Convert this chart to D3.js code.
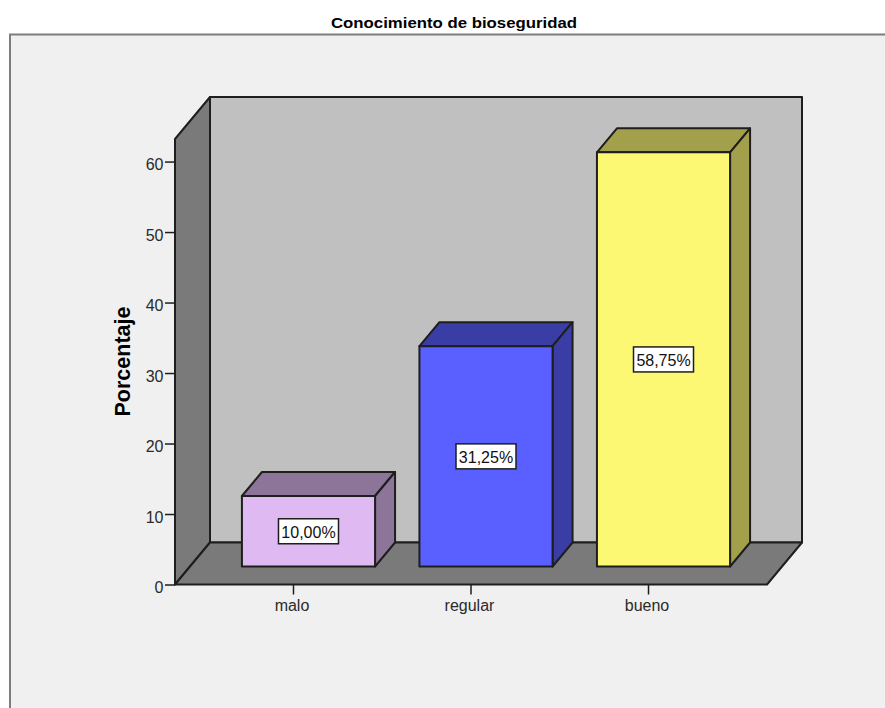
<!DOCTYPE html>
<html>
<head>
<meta charset="utf-8">
<script src="https://cdn.jsdelivr.net/npm/d3@7"></script>
<style>
  html, body { margin: 0; padding: 0; background: #fff; }
  svg { display: block; }
  text { font-family: "Liberation Sans", Arial, sans-serif; }
</style>
</head>
<body>
<svg id="chart" width="885" height="708"></svg>
<script>
// Knowledge survey results
const chartTitle = "Conocimiento de bioseguridad";
const axisTitle = "Porcentaje";
const categories = ["malo", "regular", "bueno"];
const percentages = [10.00, 31.25, 58.75];
const valueLabels = ["10,00%", "31,25%", "58,75%"];
const yTicks = [0, 10, 20, 30, 40, 50, 60];
const yAxisMax = 63.2;
const frontColors = ["#dfb9f2", "#5a5fff", "#fcf873"];
const sideColors = ["#8c7598", "#3a3da6", "#a3a04b"];

const svg = d3.select("#chart");
const ink = "#1e1e1e";

// Chart panel: open on the right and bottom edges
svg.append("rect").attr("x", 10).attr("y", 34.5).attr("width", 890).attr("height", 690)
  .attr("fill", "#f0f0f0").attr("stroke", "#7d7d7d").attr("stroke-width", 2);

svg.append("text").attr("x", 454).attr("y", 28).attr("text-anchor", "middle")
  .attr("font-size", 15).attr("font-weight", "bold").attr("fill", "#000")
  .attr("textLength", 246).attr("lengthAdjust", "spacingAndGlyphs").text(chartTitle);

// Scales on the front plane of the box
const y = d3.scaleLinear().domain([0, yAxisMax]).range([584.5, 139]);
const x = d3.scaleBand().domain(categories).range([175, 767]).paddingInner(0.25).paddingOuter(0.2925);

// Box depth, and where the bars sit inside it
const depthX = 35, depthY = -42;
const barOffsetX = 15, barOffsetY = -18;
const barDepthX = 20, barDepthY = -24;

const poly = (points, fill) => svg.append("path")
  .attr("d", d3.line()(points) + "Z")
  .attr("fill", fill).attr("stroke", ink).attr("stroke-width", 2).attr("stroke-linejoin", "round");

const [x0, x1] = x.range();
const [yb, yt] = y.range();

// Back wall, left wall, floor
poly([[x0 + depthX, yb + depthY], [x1 + depthX, yb + depthY], [x1 + depthX, yt + depthY], [x0 + depthX, yt + depthY]], "#c0c0c0");
poly([[x0, yb], [x0 + depthX, yb + depthY], [x0 + depthX, yt + depthY], [x0, yt]], "#7a7a7a");
poly([[x0, yb], [x1, yb], [x1 + depthX, yb + depthY], [x0 + depthX, yb + depthY]], "#7a7a7a");

// Value axis
const yAxis = svg.append("g").attr("transform", `translate(${x0},0)`)
  .call(d3.axisLeft(y).tickValues(yTicks).tickFormat(d3.format("d")).tickSize(10).tickPadding(1.5));
yAxis.select(".domain").remove();
yAxis.selectAll("line").attr("stroke", ink).attr("stroke-width", 1.5);
yAxis.selectAll("text").attr("font-size", 16).attr("fill", "#2a2a2a").attr("dy", "0.5em")
  .style("font-family", '"Liberation Sans", Arial, sans-serif');

// Category axis
const xAxis = svg.append("g").attr("transform", `translate(0,${yb})`)
  .call(d3.axisBottom(x).tickSize(10).tickPadding(5));
xAxis.select(".domain").remove();
xAxis.selectAll("line").attr("stroke", ink).attr("stroke-width", 1.5);
xAxis.selectAll("text").attr("font-size", 16).attr("fill", "#2a2a2a").attr("dx", -1.5)
  .style("font-family", '"Liberation Sans", Arial, sans-serif');

svg.append("text").attr("transform", "translate(130,361.5) rotate(-90)")
  .attr("text-anchor", "middle").attr("font-size", 21.5).attr("font-weight", "bold")
  .attr("fill", "#000").text(axisTitle);

// Bars, drawn as three visible box faces
categories.forEach((c, i) => {
  const left = x(c) + barOffsetX;
  const right = left + x.bandwidth();
  const bottom = yb + barOffsetY;
  const top = bottom - (yb - y(percentages[i]));
  poly([[left, top], [right, top], [right + barDepthX, top + barDepthY], [left + barDepthX, top + barDepthY]], sideColors[i]);
  poly([[right, top], [right + barDepthX, top + barDepthY], [right + barDepthX, bottom + barDepthY], [right, bottom]], sideColors[i]);
  poly([[left, top], [right, top], [right, bottom], [left, bottom]], frontColors[i]);

  const cx = (left + right) / 2, cy = (top + bottom) / 2;
  svg.append("rect").attr("x", cx - 30).attr("y", cy - 12.5).attr("width", 60).attr("height", 25)
    .attr("fill", "#fff").attr("stroke", ink).attr("stroke-width", 1.5);
  svg.append("text").attr("x", cx).attr("y", cy + 6.5).attr("text-anchor", "middle")
    .attr("font-size", 16).attr("fill", "#111").text(valueLabels[i]);
});
</script>
</body>
</html>
